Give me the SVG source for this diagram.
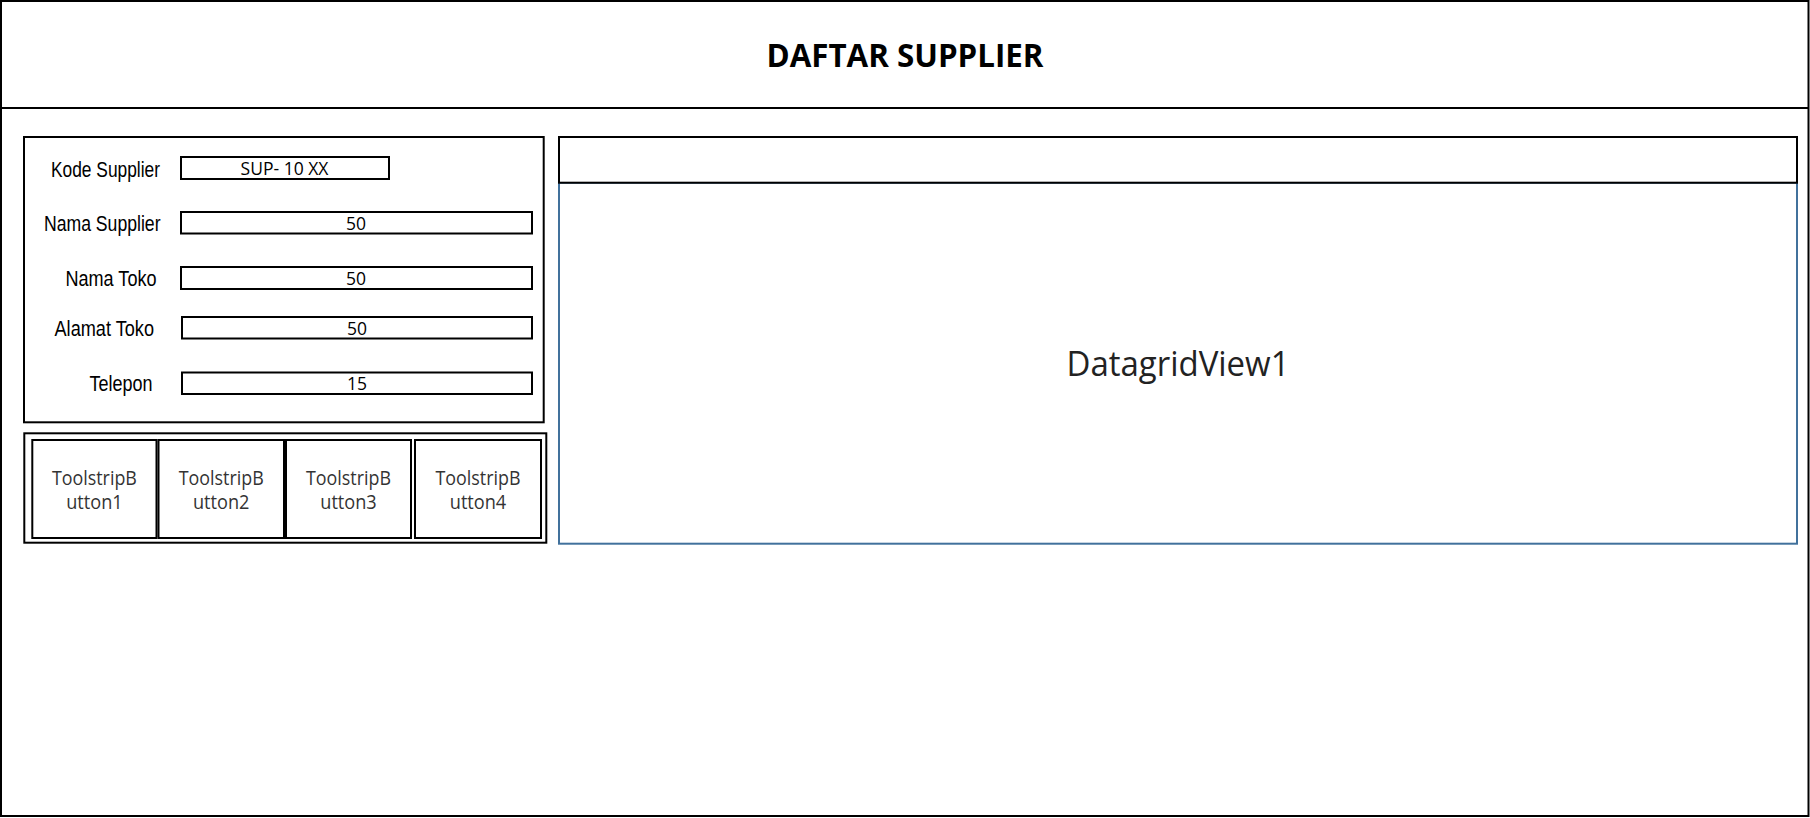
<svg xmlns="http://www.w3.org/2000/svg" width="1810" height="818" viewBox="0 0 1810 818">
  <style>
    .box { fill: #ffffff; stroke: #000000; stroke-width: 2; }
    .blue { fill: #ffffff; stroke: #41719C; stroke-width: 2; }
    .lbl { font-family: "Liberation Sans", Arial, sans-serif; font-size: 21.5px; fill: #000000; }
    .val { font-family: "Open Sans", "Noto Sans", sans-serif; font-size: 17.5px; fill: #000000; text-anchor: middle; }
    .btn { font-family: "Open Sans", "Noto Sans", sans-serif; font-size: 19.5px; fill: #333333; text-anchor: middle; }
    .title { font-family: "Open Sans", "Noto Sans", sans-serif; font-size: 33px; font-weight: bold; fill: #000000; text-anchor: middle; }
    .grid { font-family: "Open Sans", "Noto Sans", sans-serif; font-size: 34px; fill: #222222; text-anchor: middle; }
  </style>
  <rect width="1810" height="818" fill="#ffffff"/>

  <g id="window">
    <rect class="box" x="1" y="1" width="1807.5" height="815"/>
    <line x1="0" y1="108" x2="1809" y2="108" stroke="#000000" stroke-width="2"/>
  </g>

  <g id="title">
    <text class="title" x="905" y="66.8" textLength="277" lengthAdjust="spacingAndGlyphs">DAFTAR SUPPLIER</text>
  </g>

  <g id="form-panel">
    <rect class="box" x="24" y="137" width="519.7" height="285.3"/>
  </g>

  <g id="field-kode">
    <text class="lbl" x="51" y="176.5" textLength="109" lengthAdjust="spacingAndGlyphs">Kode Supplier</text>
    <rect class="box" x="181" y="157" width="208" height="22"/>
    <text class="val" x="284.5" y="175">SUP- 10 XX</text>
  </g>

  <g id="field-nama-supplier">
    <text class="lbl" x="44" y="231" textLength="116.5" lengthAdjust="spacingAndGlyphs">Nama Supplier</text>
    <rect class="box" x="181" y="212" width="351" height="21.5"/>
    <text class="val" x="356" y="229.5">50</text>
  </g>

  <g id="field-nama-toko">
    <text class="lbl" x="65.5" y="285.5" textLength="91" lengthAdjust="spacingAndGlyphs">Nama Toko</text>
    <rect class="box" x="181" y="267" width="351" height="22"/>
    <text class="val" x="356" y="284.5">50</text>
  </g>

  <g id="field-alamat-toko">
    <text class="lbl" x="54.5" y="335.5" textLength="99.5" lengthAdjust="spacingAndGlyphs">Alamat Toko</text>
    <rect class="box" x="182" y="317" width="350" height="21.5"/>
    <text class="val" x="357" y="334.5">50</text>
  </g>

  <g id="field-telepon">
    <text class="lbl" x="89.5" y="390.5" textLength="63" lengthAdjust="spacingAndGlyphs">Telepon</text>
    <rect class="box" x="182" y="372.5" width="350" height="21.5"/>
    <text class="val" x="357" y="390">15</text>
  </g>

  <g id="toolstrip">
    <rect class="box" x="24.3" y="433.3" width="522" height="109.4"/>
  </g>

  <g id="toolstrip-button1">
    <rect class="box" x="32.3" y="440" width="124.2" height="98"/>
    <text class="btn" x="94.4" y="484.5" textLength="85" lengthAdjust="spacingAndGlyphs">ToolstripB</text>
    <text class="btn" x="94.4" y="509" textLength="56.5" lengthAdjust="spacingAndGlyphs">utton1</text>
  </g>

  <g id="toolstrip-button2">
    <rect class="box" x="158.5" y="440" width="125.5" height="98"/>
    <text class="btn" x="221.2" y="484.5" textLength="85" lengthAdjust="spacingAndGlyphs">ToolstripB</text>
    <text class="btn" x="221.2" y="509" textLength="56.5" lengthAdjust="spacingAndGlyphs">utton2</text>
  </g>

  <g id="toolstrip-button3">
    <rect class="box" x="286" y="440" width="125" height="98"/>
    <text class="btn" x="348.5" y="484.5" textLength="85" lengthAdjust="spacingAndGlyphs">ToolstripB</text>
    <text class="btn" x="348.5" y="509" textLength="56.5" lengthAdjust="spacingAndGlyphs">utton3</text>
  </g>

  <g id="toolstrip-button4">
    <rect class="box" x="415" y="440" width="126" height="98"/>
    <text class="btn" x="478" y="484.5" textLength="85" lengthAdjust="spacingAndGlyphs">ToolstripB</text>
    <text class="btn" x="478" y="509" textLength="56.5" lengthAdjust="spacingAndGlyphs">utton4</text>
  </g>

  <g id="datagridview">
    <rect class="blue" x="559" y="182.7" width="1238" height="361"/>
    <rect class="box" x="559" y="137" width="1238" height="45.7"/>
    <text class="grid" x="1178" y="375.7" textLength="223" lengthAdjust="spacingAndGlyphs">DatagridView1</text>
  </g>

  <g id="connectors"/>
</svg>
